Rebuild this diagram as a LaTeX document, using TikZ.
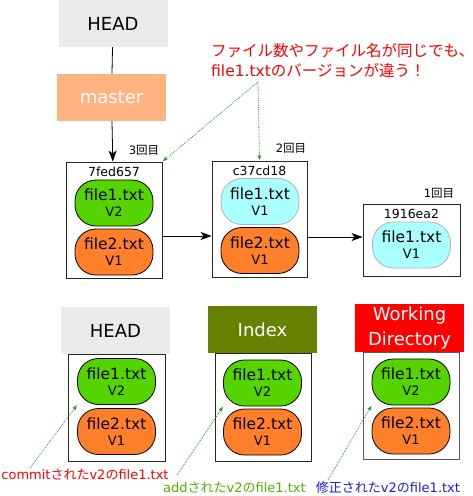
\documentclass[tikz,border=0pt]{standalone}
\usepackage{fontspec}
\setmainfont{DejaVu Sans}
\newfontfamily\jp{Noto Sans CJK JP}
\usepackage{tikz}
\usetikzlibrary{arrows.meta,positioning}
\usepackage{xcolor}
\definecolor{headgray}{HTML}{EBEBEB}
\definecolor{mastertan}{HTML}{FFB380}
\definecolor{vtwogreen}{HTML}{55D400}
\definecolor{voneorange}{HTML}{FF7F2A}
\definecolor{vonecyan}{HTML}{AAFFFF}
\definecolor{indexolive}{HTML}{668000}
\definecolor{wdred}{HTML}{FF0000}
\definecolor{dotgreen}{HTML}{2E9A2E}
\definecolor{addgreen}{HTML}{4DB300}
\definecolor{editblue}{HTML}{1A1AF0}

\begin{document}
\begin{tikzpicture}[
  x=1pt, y=-1pt,
  refbox/.style={minimum width=109, minimum height=47, inner sep=0, align=center, font=\fontsize{18}{25}\selectfont},
  tree/.style={draw=black!85, line width=0.9pt, inner sep=0},
  file/.style={draw, line width=0.8pt, rounded corners=21, minimum width=78, minimum height=46, inner sep=0, align=center, font=\fontsize{15.5}{18}\selectfont},
  vtwo/.style={file, fill=vtwogreen},
  vone/.style={file, fill=voneorange},
  vold/.style={file, fill=vonecyan, draw=black!30},
  hash/.style={font=\fontsize{12.5}{14}\selectfont},
  nth/.style={font=\fontsize{11.5}{13}\selectfont},
  caption/.style={font=\fontsize{13}{14}\selectfont, inner sep=1pt},
  arr/.style={-{Stealth[length=11pt, width=8pt, inset=3pt]}, line width=0.8pt},
  note/.style={-{Latex[length=5pt, width=4pt]}, dotgreen, densely dotted, line width=0.8pt}
]
\useasboundingbox (0,0) rectangle (473,496);

\node[refbox, fill=headgray] (head) at (113,23.5) {HEAD};
\node[refbox, fill=mastertan, text=white] (master) at (111.5,97.5) {master};

\node[tree, minimum width=96, minimum height=116] (c3) at (114,220) {};
\node[hash] (c3id) at (114,172) {7fed657};
\node[vtwo] (c3f1) at (114,203) {file1.txt\\[-2pt]{\fontsize{13}{14}\selectfont V2}};
\node[vone] (c3f2) at (114,252) {file2.txt\\[-2pt]{\fontsize{13}{14}\selectfont V1}};
\node[nth] (c3n) at (144,150) {3{\jp 回目}};

\node[tree, minimum width=95, minimum height=116] (c2) at (259.5,219) {};
\node[hash] (c2id) at (259.5,171) {c37cd18};
\node[vold] (c2f1) at (260,201.5) {file1.txt\\[-2pt]{\fontsize{13}{14}\selectfont V1}};
\node[vone] (c2f2) at (260,250.5) {file2.txt\\[-2pt]{\fontsize{13}{14}\selectfont V1}};
\node[nth] (c2n) at (291,148) {2{\jp 回目}};

\node[tree, minimum width=97, minimum height=72] (c1) at (411.5,240) {};
\node[hash] (c1id) at (411.5,214) {1916ea2};
\node[vold] (c1f1) at (411.5,245) {file1.txt\\[-2pt]{\fontsize{13}{14}\selectfont V1}};
\node[nth] (c1n) at (439,193) {1{\jp 回目}};

\draw[line width=0.8pt] (head) -- (master);
\draw[arr] (master) -- (c3);
\draw[arr] ([yshift=-16]c3.east) -- ([yshift=-16]c3.east -| c2.west);
\draw[arr] ([yshift=-18]c2.east) -- ([yshift=-18]c2.east -| c1.west);

\node[anchor=west, text=red, align=left, font=\fontsize{15.5}{20}\selectfont, inner sep=0] (warn) at (211,60)
  {{\jp ファイル数やファイル名が同じでも、}\\file1.txt{\jp のバージョンが違う！}};
\coordinate (warntip) at (258,82);
\draw[note] (warntip) -- (c3.north east);
\draw[note] (warntip) -- (c2.north);

\node[tree, minimum width=97, minimum height=107] (hbox) at (116.5,407.5) {};
\node[refbox, fill=headgray] (hlabel) at (115.5,330.5) {HEAD};
\node[vtwo] (hf1) at (116.5,381.5) {file1.txt\\[-2pt]{\fontsize{13}{14}\selectfont V2}};
\node[vone] (hf2) at (116.5,431.5) {file2.txt\\[-2pt]{\fontsize{13}{14}\selectfont V1}};

\node[tree, minimum width=96, minimum height=108] (ibox) at (263,407) {};
\node[refbox, fill=indexolive, text=white] (ilabel) at (262.5,329.5) {Index};
\node[vtwo] (if1) at (262.5,383) {file1.txt\\[-2pt]{\fontsize{13}{14}\selectfont V2}};
\node[vone] (if2) at (262.5,432) {file2.txt\\[-2pt]{\fontsize{13}{14}\selectfont V1}};

\node[tree, draw=black!65, minimum width=96, minimum height=107] (wbox) at (411,405.5) {};
\node[refbox, fill=wdred, text=white, minimum height=48] (wlabel) at (409.5,328) {Working\\Directory};
\node[vtwo] (wf1) at (411,382) {file1.txt\\[-2pt]{\fontsize{13}{14}\selectfont V2}};
\node[vone] (wf2) at (411,431) {file2.txt\\[-2pt]{\fontsize{13}{14}\selectfont V1}};

\node[caption, text=red] (hnote) at (85,475) {commit{\jp された}v2{\jp の}file1.txt};
\node[caption, text=addgreen] (inote) at (234.5,488) {add{\jp された}v2{\jp の}file1.txt};
\node[caption, text=editblue] (wnote) at (388,488) {{\jp 修正された}v2{\jp の}file1.txt};

\coordinate (hfrom) at (30,468);
\coordinate (ifrom) at (177,475);
\coordinate (wfrom) at (328,480);
\draw[note] (hfrom) -- (hf1.south west);
\draw[note] (ifrom) -- (if1.south west);
\draw[note] (wfrom) -- (wf1.south west);

\end{tikzpicture}
\end{document}
